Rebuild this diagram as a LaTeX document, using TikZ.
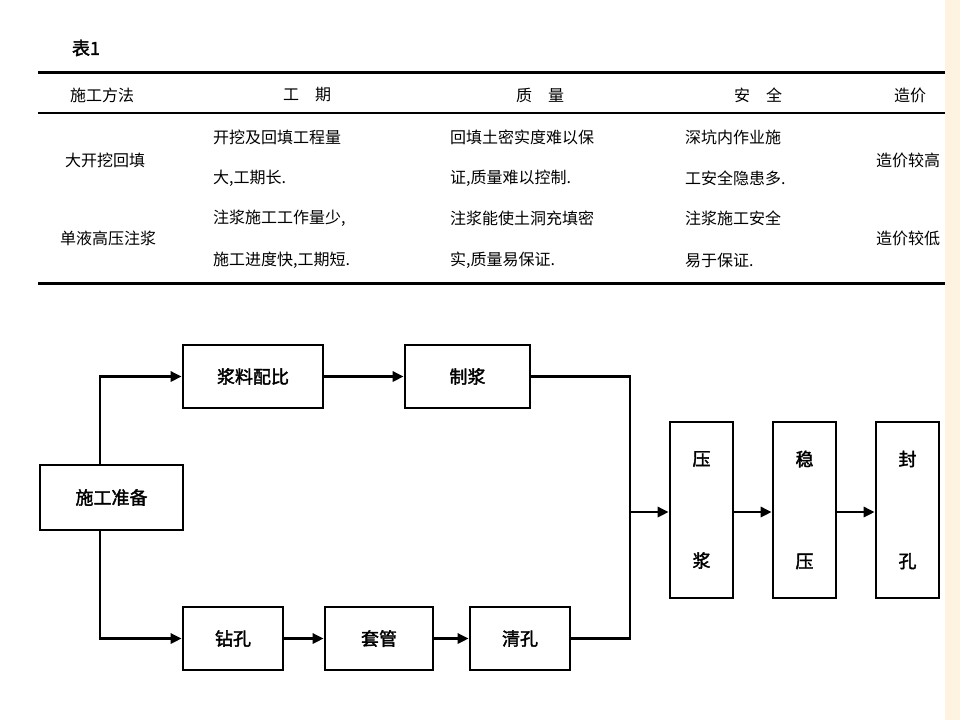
\documentclass[tikz,border=0pt]{standalone}
\usepackage{fontspec}
\newfontfamily\cjk{Noto Sans CJK SC}[AutoFakeBold=2]
\usetikzlibrary{arrows.meta}
\begin{document}
\begin{tikzpicture}[x=1pt,y=-1pt,
  box/.style={draw,line width=2.6pt,font=\cjk\bfseries\fontsize{18}{18}\selectfont,inner sep=0pt},
  arr/.style={line width=2.6pt,-{Triangle[length=11pt,width=10pt]}},
  ln/.style={line width=2.6pt},
  tx/.style={font=\cjk\fontsize{16}{16}\selectfont,anchor=west,inner sep=0pt},
  tc/.style={font=\cjk\fontsize{16}{16}\selectfont,inner sep=0pt}]
\useasboundingbox (0,0) rectangle (960,720);
\fill[white] (0,0) rectangle (960,720);
\fill[yellow!15!orange!10] (945,0) rectangle (960,720);
% table
\node[tc,font=\cjk\bfseries\fontsize{18}{18}\selectfont] (t1) at (86,48) {表1};
\draw[line width=3pt] (38,72) -- (945,72);
\draw[line width=1.2pt] (38,113) -- (945,113);
\draw[line width=3pt] (38,283) -- (945,283);
\node[tc] (h1) at (102,95) {施工方法};
\node[tc] (h2) at (307,95) {工\quad 期};
\node[tc] (h3) at (540,95) {质\quad 量};
\node[tc] (h4) at (758,95) {安\quad 全};
\node[tc] (h5) at (910,95) {造价};
\node[tc] (r1) at (105,160) {大开挖回填};
\node[tx] (a1) at (213,137) {开挖及回填工程量};
\node[tx] (a2) at (213,178) {大,工期长.};
\node[tx] (b1) at (450,137) {回填土密实度难以保};
\node[tx] (b2) at (450,178) {证,质量难以控制.};
\node[tx] (c1) at (685,137) {深坑内作业施};
\node[tx] (c2) at (685,178) {工安全隐患多.};
\node[tc] (d1) at (908,160) {造价较高};
\node[tc] (r2) at (108,238) {单液高压注浆};
\node[tx] (a3) at (213,218) {注浆施工工作量少,};
\node[tx] (a4) at (213,260) {施工进度快,工期短.};
\node[tx] (b3) at (450,218) {注浆能使土洞充填密};
\node[tx] (b4) at (450,260) {实,质量易保证.};
\node[tx] (c3) at (685,218) {注浆施工安全};
\node[tx] (c4) at (685,260) {易于保证.};
\node[tc] (d2) at (908,238) {造价较低};
% flowchart
\node[box,minimum width=143pt,minimum height=65pt] (sg) at (111.5,497.5) {施工准备};
\node[box,minimum width=140pt,minimum height=63pt] (jl) at (253,376.5) {浆料配比};
\node[box,minimum width=125pt,minimum height=63pt] (zj) at (467.5,376.5) {制浆};
\node[box,minimum width=100pt,minimum height=63pt] (zk) at (233,638.5) {钻孔};
\node[box,minimum width=108pt,minimum height=63pt] (tg) at (379,638.5) {套管};
\node[box,minimum width=100pt,minimum height=63pt] (qk) at (520,638.5) {清孔};
\node[box,minimum width=63pt,minimum height=176pt,align=center] (yj) at (701.5,510) {压\\[84pt]浆};
\node[box,minimum width=63pt,minimum height=176pt,align=center] (wy) at (804.5,510) {稳\\[84pt]压};
\node[box,minimum width=63pt,minimum height=176pt,align=center] (fk) at (907.5,510) {封\\[84pt]孔};
\coordinate (m) at (630,512);
\draw[arr] (sg.north -| 100,0) |- (jl.west);
\draw[arr] (sg.south -| 100,0) |- (zk.west);
\draw[arr] (jl) -- (zj);
\draw[arr] (zk) -- (tg);
\draw[arr] (tg) -- (qk);
\draw[ln] (zj.east) -| (m);
\draw[ln] (qk.east) -| (m);
\draw[arr] (m) -- (m -| yj.west);
\draw[arr] (yj.east |- m) -- (wy.west |- m);
\draw[arr] (wy.east |- m) -- (fk.west |- m);
\end{tikzpicture}
\end{document}
